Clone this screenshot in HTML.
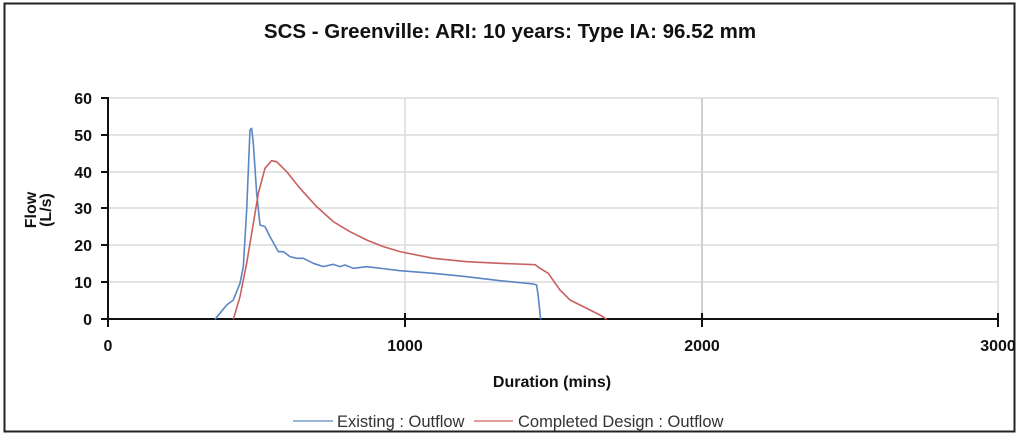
<!DOCTYPE html>
<html><head><style>
body{margin:0;background:#fff;}
svg{display:block;font-family:"Liberation Sans",Arial,sans-serif;}
</style></head><body>
<svg width="1024" height="437" viewBox="0 0 1024 437">
<rect x="4.5" y="3.5" width="1010" height="428" fill="#fff" stroke="#222" stroke-width="2"/>
<text x="510" y="38" font-size="20.5" font-weight="bold" text-anchor="middle" fill="#111">SCS - Greenville: ARI: 10 years: Type IA: 96.52 mm</text>
<g stroke="#dcdcdc" stroke-width="1.5">
<line x1="108" y1="98" x2="998" y2="98"/>
<line x1="108" y1="135" x2="998" y2="135"/>
<line x1="108" y1="172" x2="998" y2="172"/>
<line x1="108" y1="208" x2="998" y2="208"/>
<line x1="108" y1="245" x2="998" y2="245"/>
<line x1="108" y1="282" x2="998" y2="282"/>
<line x1="405" y1="98" x2="405" y2="319"/>
<line x1="702" y1="98" x2="702" y2="319" stroke="#cfcfcf" stroke-width="2"/>
<line x1="998" y1="98" x2="998" y2="319"/>
</g>
<g stroke="#111" stroke-width="2">
<line x1="108" y1="97" x2="108" y2="327"/>
<line x1="101" y1="319" x2="998" y2="319"/>
<line x1="101" y1="98" x2="108" y2="98"/><line x1="101" y1="135" x2="108" y2="135"/><line x1="101" y1="172" x2="108" y2="172"/><line x1="101" y1="208" x2="108" y2="208"/><line x1="101" y1="245" x2="108" y2="245"/><line x1="101" y1="282" x2="108" y2="282"/>
<line x1="405" y1="313" x2="405" y2="327"/><line x1="702" y1="313" x2="702" y2="327"/><line x1="998" y1="313" x2="998" y2="327"/>
</g>
<g font-size="16" font-weight="bold" fill="#111" text-anchor="end">
<text x="92" y="104">60</text><text x="92" y="141">50</text><text x="92" y="178">40</text><text x="92" y="214">30</text><text x="92" y="251">20</text><text x="92" y="288">10</text><text x="92" y="325">0</text>
</g>
<g font-size="16" font-weight="bold" fill="#111" text-anchor="middle">
<text x="108" y="351">0</text><text x="405" y="351">1000</text><text x="702" y="351">2000</text><text x="998" y="351">3000</text>
<text x="552" y="387">Duration (mins)</text>
</g>
<g transform="translate(36,210) rotate(-90)" font-size="16" font-weight="bold" fill="#111" text-anchor="middle">
<text x="0" y="0">Flow</text><text x="0" y="15">(L/s)</text>
</g>
<g transform="translate(200,110) scale(0.3333)" fill="none" stroke-width="1.6" stroke-linejoin="round">
<polyline vector-effect="non-scaling-stroke" stroke="#5b86c4" points="45,628 80,585 100,570 120,520 130,470 140,300 150,60 155,55 160,100 170,250 180,345 195,350 210,380 235,425 250,425 270,440 290,445 310,445 340,460 370,470 400,463 420,470 435,465 460,475 500,470 600,482 700,490 800,500 900,512 1000,522 1010,525 1015,560 1022,628"/>
<polyline vector-effect="non-scaling-stroke" stroke="#c9605e" points="100,628 120,560 140,460 160,340 175,250 195,175 215,152 230,155 260,185 300,235 350,290 400,335 450,365 500,390 550,410 600,425 700,445 800,455 900,460 1005,464 1020,475 1045,490 1080,540 1110,570 1150,590 1200,615 1220,628"/>
</g>
<line x1="293" y1="421" x2="333" y2="421" stroke="#5b86c4" stroke-width="1.2"/>
<text x="337" y="427" font-size="16.5" fill="#333">Existing : Outflow</text>
<line x1="474" y1="421" x2="513" y2="421" stroke="#c9605e" stroke-width="1.2"/>
<text x="518" y="427" font-size="16.5" fill="#333">Completed Design : Outflow</text>
</svg>
</body></html>
